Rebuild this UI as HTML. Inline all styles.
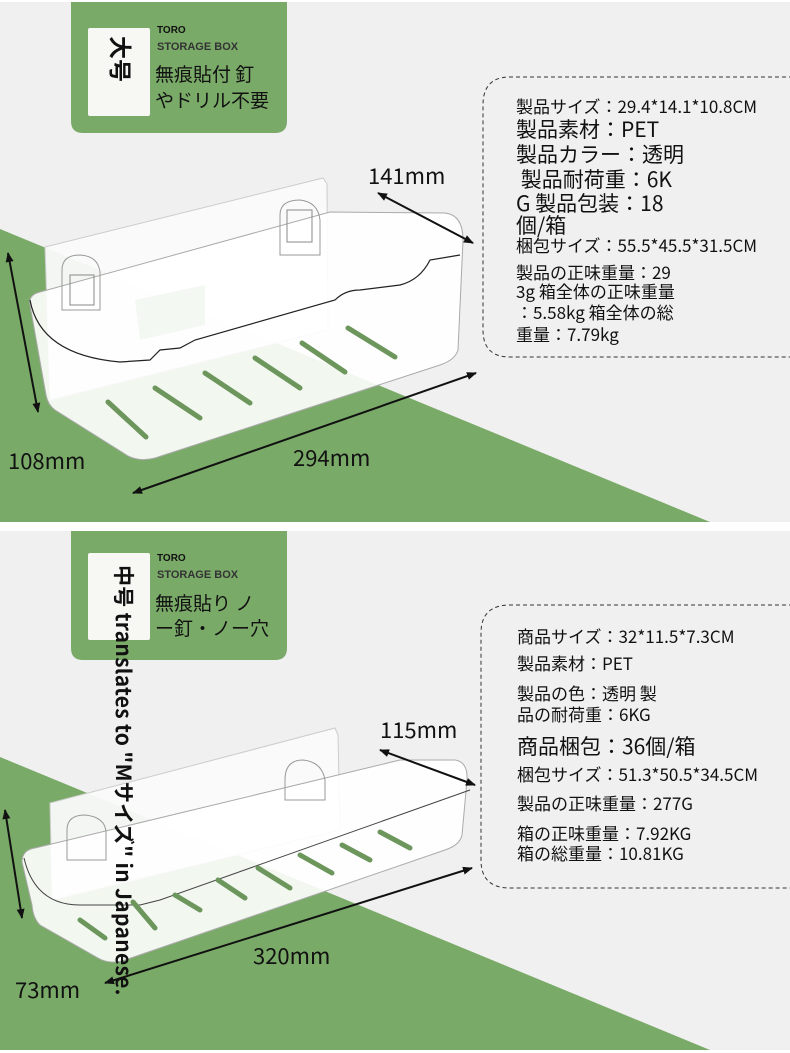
<!DOCTYPE html>
<html><head><meta charset="utf-8"><style>
body{margin:0;width:790px;height:1053px;position:relative;background:#fff;overflow:hidden;font-family:"Liberation Sans","Noto Sans CJK JP",sans-serif;color:#111}
.a{position:absolute;white-space:nowrap;line-height:1}
.jp{font-family:"Noto Sans CJK JP","Liberation Sans",sans-serif}
.v{writing-mode:vertical-rl;text-orientation:sideways;font-weight:bold}
.d{font-family:"Noto Sans CJK JP","Liberation Sans",sans-serif;font-size:22px}
</style></head><body>
<svg width="790" height="1053" style="position:absolute;left:0;top:0">
<defs>
<marker id="ah" markerWidth="10" markerHeight="8" refX="9" refY="4" orient="auto-start-reverse" markerUnits="userSpaceOnUse"><path d="M0,0 L10,4 L0,8 z" fill="#111"/></marker>
</defs>
<rect x="0" y="2" width="790" height="520" fill="#f0f0f0"/>
<rect x="0" y="531" width="790" height="519" fill="#f0f0f0"/>
<polygon points="0,229 710,522 0,522" fill="#7aaa68"/>
<polygon points="0,757 710,1050 0,1050" fill="#7aaa68"/>
<path d="M71,2 H287 V121 Q287,133 275,133 H83 Q71,133 71,121 Z" fill="#7aaa68"/>
<rect x="88" y="28" width="62" height="88" rx="2" fill="#f7f7f4"/>
<path d="M71,531 H287 V648 Q287,660 275,660 H83 Q71,660 71,648 Z" fill="#7aaa68"/>
<rect x="88" y="553" width="62" height="87" rx="2" fill="#f7f7f4"/>
<path d="M800,77 H510 Q483,77 483,105 V330 Q483,357 510,357 H800" fill="none" stroke="#333" stroke-width="1" stroke-dasharray="4,3"/>
<path d="M800,605 H510 Q481,605 481,633 V860 Q481,888 510,888 H800" fill="none" stroke="#333" stroke-width="1" stroke-dasharray="4,3"/>
<!-- top box -->
<polygon points="45,247 323,178 327,184 328,330 50,400" fill="#fafafa" fill-opacity="0.95" stroke="#ccc"/>
<polygon points="135,300 205,285 205,325 140,340" fill="#7aaa68" opacity="0.85"/>
<path d="M30,305 Q28,295 40,292 L330,212 L445,213 Q463,215 463,240 L458,350 Q455,360 440,365 L155,458 Q140,462 128,456 L55,410 Q48,405 46,395 Z" fill="#fff" fill-opacity="0.9" stroke="#aaa"/>
<path d="M30,300 Q40,355 120,362 L150,360 L160,350 L180,348 L195,340 L335,300 Q345,290 360,290 L400,285 Q420,280 430,260 L460,255" fill="none" stroke="#222" stroke-width="1.2"/>
<path d="M280,215 Q280,200 300,200 Q318,202 320,220 V255 H280 Z" fill="none" stroke="#999"/>
<path d="M62,270 Q62,255 80,255 Q98,256 100,272 V310 H62 Z" fill="none" stroke="#999"/>
<rect x="287" y="210" width="25" height="32" fill="none" stroke="#888"/>
<rect x="70" y="275" width="24" height="30" fill="none" stroke="#888"/>
<g stroke="#6c965c" stroke-width="5" stroke-linecap="round">
<line x1="108" y1="402" x2="146" y2="437"/><line x1="155" y1="388" x2="200" y2="418"/><line x1="205" y1="373" x2="250" y2="403"/><line x1="255" y1="358" x2="300" y2="388"/><line x1="302" y1="343" x2="345" y2="372"/><line x1="348" y1="328" x2="395" y2="357"/>
</g>
<line x1="378" y1="193" x2="473" y2="243" stroke="#111" stroke-width="2" marker-start="url(#ah)" marker-end="url(#ah)"/>
<line x1="8" y1="253" x2="38" y2="412" stroke="#111" stroke-width="2" marker-start="url(#ah)" marker-end="url(#ah)"/>
<line x1="133" y1="493" x2="476" y2="373" stroke="#111" stroke-width="2" marker-start="url(#ah)" marker-end="url(#ah)"/>
<!-- bottom box -->
<polygon points="50,803 335,728 338,735 340,830 52,900" fill="#fafafa" fill-opacity="0.95" stroke="#ccc"/>
<path d="M22,862 Q22,850 35,848 L400,760 L455,760 Q468,762 467,780 L462,835 Q460,845 445,850 L125,960 Q110,965 98,958 L40,925 Q33,918 32,905 Z" fill="#fff" fill-opacity="0.9" stroke="#aaa"/>
<path d="M24,858 Q35,905 80,905 L140,905 L160,900 L470,790" fill="none" stroke="#444" stroke-width="1"/>
<path d="M285,780 Q285,760 303,760 Q322,762 325,780 V800 H285 Z" fill="none" stroke="#999"/>
<path d="M67,830 Q67,815 85,815 Q105,817 106,832 V860 H67 Z" fill="none" stroke="#999"/>
<g stroke="#6c965c" stroke-width="5" stroke-linecap="round">
<line x1="80" y1="920" x2="105" y2="938"/><line x1="133" y1="902" x2="155" y2="928"/><line x1="175" y1="895" x2="200" y2="910"/><line x1="218" y1="880" x2="245" y2="898"/><line x1="258" y1="868" x2="290" y2="888"/><line x1="300" y1="855" x2="332" y2="873"/><line x1="342" y1="845" x2="370" y2="860"/><line x1="380" y1="832" x2="410" y2="848"/>
</g>
<line x1="380" y1="750" x2="475" y2="785" stroke="#111" stroke-width="2" marker-start="url(#ah)" marker-end="url(#ah)"/>
<line x1="5" y1="810" x2="22" y2="918" stroke="#111" stroke-width="2" marker-start="url(#ah)" marker-end="url(#ah)"/>
<line x1="105" y1="983" x2="472" y2="868" stroke="#111" stroke-width="2" marker-start="url(#ah)" marker-end="url(#ah)"/>
</svg>

<div class="a v jp" style="left:110px;top:36px;font-size:23px">大号</div>
<div class="a" style="left:157px;top:26px;font-size:10px;font-weight:bold">TORO</div>
<div class="a" style="left:157px;top:42px;font-size:11px;font-weight:bold;color:#333">STORAGE BOX</div>
<div class="a jp" style="left:155px;top:64px;font-size:19px">無痕貼付 釘</div>
<div class="a jp" style="left:155px;top:90px;font-size:19px">やドリル不要</div>

<div class="a" style="left:157px;top:554px;font-size:10px;font-weight:bold">TORO</div>
<div class="a" style="left:157px;top:570px;font-size:11px;font-weight:bold;color:#333">STORAGE BOX</div>
<div class="a jp" style="left:155px;top:593px;font-size:19px">無痕貼り ノ</div>
<div class="a jp" style="left:155px;top:618px;font-size:19px">ー釘・ノー穴</div>
<div class="a v jp" style="left:113px;top:565px;font-size:21px;letter-spacing:0.3px">中号 translates to "Mサイズ" in Japanese.</div>

<div class="a d" style="left:368px;top:164px">141mm</div>
<div class="a d" style="left:8px;top:449px">108mm</div>
<div class="a d" style="left:293px;top:446px">294mm</div>
<div class="a d" style="left:380px;top:718px">115mm</div>
<div class="a d" style="left:253px;top:944px">320mm</div>
<div class="a d" style="left:15px;top:978px">73mm</div>

<div class="a jp" style="left:516px;top:97px;font-size:17px">製品サイズ：29.4*14.1*10.8CM</div>
<div class="a jp" style="left:516px;top:119px;font-size:21px">製品素材：PET</div>
<div class="a jp" style="left:516px;top:144px;font-size:21px">製品カラー：透明</div>
<div class="a jp" style="left:516px;top:169px;font-size:21px">&nbsp;製品耐荷重：6K</div>
<div class="a jp" style="left:516px;top:193px;font-size:21px">G 製品包装：18</div>
<div class="a jp" style="left:516px;top:215px;font-size:21px">個/箱</div>
<div class="a jp" style="left:516px;top:236px;font-size:17px">梱包サイズ：55.5*45.5*31.5CM</div>
<div class="a jp" style="left:516px;top:263px;font-size:17px">製品の正味重量：29</div>
<div class="a jp" style="left:516px;top:282px;font-size:17px">3g 箱全体の正味重量</div>
<div class="a jp" style="left:516px;top:303px;font-size:17px">：5.58kg 箱全体の総</div>
<div class="a jp" style="left:516px;top:325px;font-size:17px">重量：7.79kg</div>

<div class="a jp" style="left:517px;top:627px;font-size:17px">商品サイズ：32*11.5*7.3CM</div>
<div class="a jp" style="left:517px;top:654px;font-size:17px">製品素材：PET</div>
<div class="a jp" style="left:517px;top:684px;font-size:17px">製品の色：透明 製</div>
<div class="a jp" style="left:517px;top:705px;font-size:17px">品の耐荷重：6KG</div>
<div class="a jp" style="left:517px;top:736px;font-size:21px">商品梱包：36個/箱</div>
<div class="a jp" style="left:517px;top:765px;font-size:17px">梱包サイズ：51.3*50.5*34.5CM</div>
<div class="a jp" style="left:517px;top:794px;font-size:17px">製品の正味重量：277G</div>
<div class="a jp" style="left:517px;top:824px;font-size:17px">箱の正味重量：7.92KG</div>
<div class="a jp" style="left:517px;top:844px;font-size:17px">箱の総重量：10.81KG</div>
</body></html>
